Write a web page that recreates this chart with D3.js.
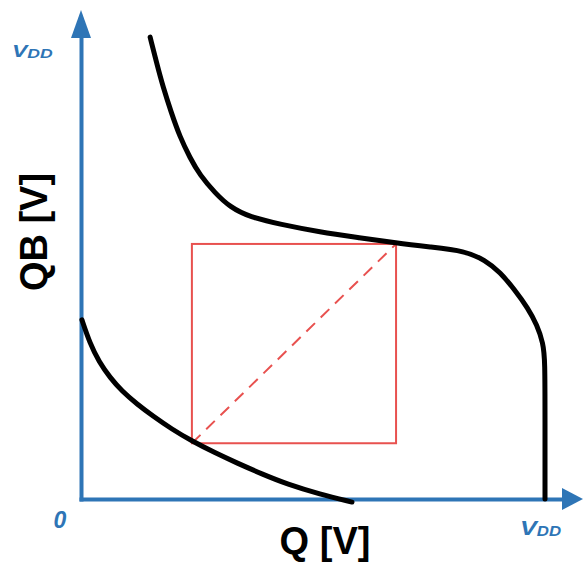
<!DOCTYPE html>
<html>
<head>
<meta charset="utf-8">
<script src="https://cdn.jsdelivr.net/npm/d3@7/dist/d3.min.js"></script>
<style>
  html, body { margin: 0; padding: 0; background: #fff; }
  svg { display: block; }
</style>
</head>
<body>
<svg id="chart" width="585" height="563"></svg>
<script>
// Butterfly curve of an SRAM cell (normalised to VDD = 1)
// Inverter 1: QB as a function of Q
const upperQ  = [0.149, 0.164, 0.177, 0.194, 0.213, 0.235, 0.256, 0.289, 0.321, 0.364, 0.429, 0.515, 0.601, 0.679, 0.752, 0.828, 0.871, 0.903, 0.935, 0.963, 0.983, 0.996, 1.0, 1.0, 1.0];
const upperQB = [1.052, 0.989, 0.938, 0.882, 0.825, 0.777, 0.738, 0.697, 0.665, 0.642, 0.626, 0.608, 0.595, 0.583, 0.574, 0.565, 0.544, 0.517, 0.476, 0.435, 0.396, 0.355, 0.317, 0.180, 0.0];

// Inverter 2 (mirrored)
const lowerQ  = [0.002, 0.019, 0.039, 0.063, 0.088, 0.121, 0.155, 0.196, 0.239, 0.289, 0.336, 0.390, 0.444, 0.515, 0.584];
const lowerQB = [0.408, 0.355, 0.312, 0.276, 0.246, 0.216, 0.189, 0.159, 0.132, 0.105, 0.082, 0.057, 0.034, 0.011, -0.007];

// Largest embedded square (noise margin)
const squareQ  = [0.239, 0.679];
const squareQB = [0.127, 0.581];

const axisLabels = { x: "Q [V]", y: "QB [V]" };
const tickLabels = { origin: "0", vdd: "V", sub: "DD" };

const svg = d3.select("#chart");
const blue = "#2e75b6";
const red = "#e8514f";

const x = d3.scaleLinear().domain([0, 1]).range([81, 545]);
const y = d3.scaleLinear().domain([0, 1]).range([499, 60]);

// Axes: plain blue lines ending in arrowheads
const xAxisScale = d3.scaleLinear().domain([0, 1]).range([79, 564]);
const yAxisScale = d3.scaleLinear().domain([0, 1]).range([501, 36]);

const gx = svg.append("g").attr("transform", `translate(0,${y(0)})`)
  .call(d3.axisBottom(xAxisScale).tickValues([]).tickSizeOuter(0));
const gy = svg.append("g").attr("transform", `translate(${x(0)},0)`)
  .call(d3.axisLeft(yAxisScale).tickValues([]).tickSizeOuter(0));
[gx, gy].forEach(g => g.select(".domain")
  .attr("stroke", blue).attr("stroke-width", 4));

// arrowheads
svg.append("path")
  .attr("d", `M${x(0) - 10},${yAxisScale(1) + 2} L${x(0)},${10} L${x(0) + 10},${yAxisScale(1) + 2} Z`)
  .attr("fill", blue);
svg.append("path")
  .attr("d", `M${xAxisScale(1) - 2},${y(0) - 11} L${583},${y(0)} L${xAxisScale(1) - 2},${y(0) + 11} Z`)
  .attr("fill", blue);

// Noise-margin square and its diagonal
svg.append("rect")
  .attr("x", x(squareQ[0])).attr("y", y(squareQB[1]))
  .attr("width", x(squareQ[1]) - x(squareQ[0]))
  .attr("height", y(squareQB[0]) - y(squareQB[1]))
  .attr("fill", "none").attr("stroke", red).attr("stroke-width", 2);
svg.append("line")
  .attr("x1", x(squareQ[0])).attr("y1", y(squareQB[0]))
  .attr("x2", x(squareQ[1])).attr("y2", y(squareQB[1]))
  .attr("stroke", red).attr("stroke-width", 2)
  .attr("stroke-dasharray", "12,8");

// Transfer curves, smoothed with a B-spline
const line = d3.line()
  .x(d => x(d[0])).y(d => y(d[1]))
  .curve(d3.curveBasis);

svg.append("path")
  .datum(d3.zip(upperQ, upperQB))
  .attr("d", line)
  .attr("fill", "none").attr("stroke", "#000").attr("stroke-width", 5)
  .attr("stroke-linecap", "round").attr("stroke-linejoin", "round");
svg.append("path")
  .datum(d3.zip(lowerQ, lowerQB))
  .attr("d", line)
  .attr("fill", "none").attr("stroke", "#000").attr("stroke-width", 5)
  .attr("stroke-linecap", "round").attr("stroke-linejoin", "round");

// Tick-style labels
const font = "Arial, 'Liberation Sans', sans-serif";
function vdd(tx, ty, big, small, sx) {
  const t = svg.append("text")
    .attr("transform", `translate(${tx},${ty}) scale(${sx},1)`)
    .attr("font-family", font).attr("font-weight", "bold").attr("font-style", "italic")
    .attr("fill", blue).attr("font-size", big);
  t.append("tspan").text(tickLabels.vdd);
  t.append("tspan").attr("font-size", small).attr("dy", big * 0.06).text(tickLabels.sub);
}
vdd(12, 57, 17, 13, 1.35);
vdd(520, 535, 21, 14, 1.2);

svg.append("text")
  .attr("x", 60).attr("y", 528)
  .attr("text-anchor", "middle")
  .attr("font-family", font).attr("font-weight", "bold").attr("font-style", "italic")
  .attr("fill", blue).attr("font-size", 23)
  .text(tickLabels.origin);

// Axis titles
svg.append("text")
  .attr("x", 325).attr("y", 554)
  .attr("text-anchor", "middle")
  .attr("font-family", font).attr("font-weight", "bold")
  .attr("font-size", 38).attr("fill", "#000")
  .text(axisLabels.x);
svg.append("text")
  .attr("transform", "translate(47,232) rotate(-90)")
  .attr("text-anchor", "middle")
  .attr("font-family", font).attr("font-weight", "bold")
  .attr("font-size", 38).attr("fill", "#000")
  .text(axisLabels.y);
</script>
</body>
</html>
